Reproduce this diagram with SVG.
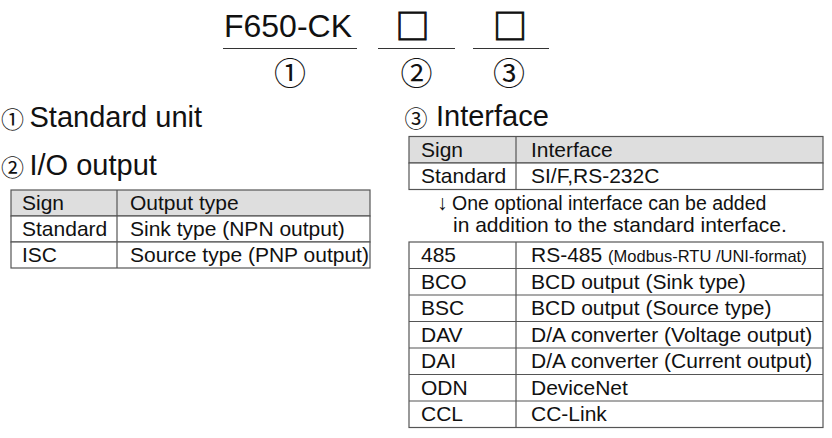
<svg xmlns="http://www.w3.org/2000/svg" width="832" height="438" viewBox="0 0 832 438">
<style>
  text { font-family: "Liberation Sans", Arial, sans-serif; fill: #111; }
  .cj { font-family: "Noto Sans CJK JP", "DejaVu Sans", sans-serif; }
  .sq { font-family: "Noto Sans CJK JP", "DejaVu Sans", sans-serif; font-size: 34px; stroke: #111; stroke-width: 1; }
  .big { font-size: 32px; }
  .h { font-size: 29px; }
  .t { font-size: 21px; }
  .s { font-size: 16.5px; }
  .ul { stroke: #333; stroke-width: 1.2; }
  .cell { fill: #fff; stroke: #555; stroke-width: 1.2; }
  .head { fill: #dedede; stroke: #555; stroke-width: 1.2; }
  .ln { stroke: #555; stroke-width: 1.2; }
</style>

<g id="model-code">
  <text class="big" x="288" y="37" text-anchor="middle">F650-CK</text>
  <text class="sq" x="412.5" y="38.5" text-anchor="middle">□</text>
  <text class="sq" x="510" y="38.5" text-anchor="middle">□</text>
  <line class="ul" x1="223" y1="48.5" x2="357" y2="48.5"/>
  <line class="ul" x1="378" y1="48.5" x2="455" y2="48.5"/>
  <line class="ul" x1="473" y1="48.5" x2="549" y2="48.5"/>
  <text class="cj" x="290" y="85" font-size="32" text-anchor="middle">①</text>
  <text class="cj" x="416.5" y="85" font-size="32" text-anchor="middle">②</text>
  <text class="cj" x="509" y="85" font-size="32" text-anchor="middle">③</text>
</g>

<g id="standard-unit">
  <text class="cj" x="12.5" y="127.5" font-size="23" text-anchor="middle">①</text>
  <text class="h" x="29.5" y="127">Standard unit</text>
</g>

<g id="io-output">
  <text class="cj" x="12.5" y="175.5" font-size="23" text-anchor="middle">②</text>
  <text class="h" x="29.5" y="175">I/O output</text>
  <rect class="head" x="11" y="190" width="359" height="26"/>
  <rect class="cell" x="11" y="216" width="359" height="26"/>
  <rect class="cell" x="11" y="242" width="359" height="26"/>
  <line class="ln" x1="117" y1="190" x2="117" y2="268"/>
  <text class="t" x="22" y="210">Sign</text>
  <text class="t" x="130" y="210">Output type</text>
  <text class="t" x="22" y="236">Standard</text>
  <text class="t" x="130" y="236">Sink type (NPN output)</text>
  <text class="t" x="22" y="262">ISC</text>
  <text class="t" x="130" y="262">Source type (PNP output)</text>
</g>

<g id="interface">
  <text class="cj" x="416" y="126.5" font-size="23" text-anchor="middle">③</text>
  <text class="h" x="436" y="126">Interface</text>
  <rect class="head" x="409" y="136.5" width="414" height="26.5"/>
  <rect class="cell" x="409" y="163" width="414" height="26.5"/>
  <line class="ln" x1="516" y1="136.5" x2="516" y2="189.5"/>
  <text class="t" x="421" y="157">Sign</text>
  <text class="t" x="531" y="157">Interface</text>
  <text class="t" x="421" y="183">Standard</text>
  <text class="t" x="531" y="183">SI/F,RS-232C</text>
  <text class="t" x="437" y="210">↓ <tspan x="452" font-size="19.5">One optional interface can be added</tspan></text>
  <text class="t" x="453" y="232">in addition to the standard interface.</text>
</g>

<g id="options">
  <rect class="cell" x="409" y="242" width="414" height="185.5"/>
  <line class="ln" x1="409" y1="268.5" x2="823" y2="268.5"/>
  <line class="ln" x1="409" y1="295" x2="823" y2="295"/>
  <line class="ln" x1="409" y1="321.5" x2="823" y2="321.5"/>
  <line class="ln" x1="409" y1="348" x2="823" y2="348"/>
  <line class="ln" x1="409" y1="374.5" x2="823" y2="374.5"/>
  <line class="ln" x1="409" y1="401" x2="823" y2="401"/>
  <line class="ln" x1="516" y1="242" x2="516" y2="427.5"/>
  <text class="t" x="421" y="262">485</text>
  <text class="t" x="531" y="262">RS-485 <tspan class="s">(Modbus-RTU /UNI-format)</tspan></text>
  <text class="t" x="421" y="288.5">BCO</text>
  <text class="t" x="531" y="288.5">BCD output (Sink type)</text>
  <text class="t" x="421" y="315">BSC</text>
  <text class="t" x="531" y="315">BCD output (Source type)</text>
  <text class="t" x="421" y="341.5">DAV</text>
  <text class="t" x="531" y="341.5">D/A converter (Voltage output)</text>
  <text class="t" x="421" y="368">DAI</text>
  <text class="t" x="531" y="368">D/A converter (Current output)</text>
  <text class="t" x="421" y="394.5">ODN</text>
  <text class="t" x="531" y="394.5">DeviceNet</text>
  <text class="t" x="421" y="421">CCL</text>
  <text class="t" x="531" y="421">CC-Link</text>
</g>
</svg>
